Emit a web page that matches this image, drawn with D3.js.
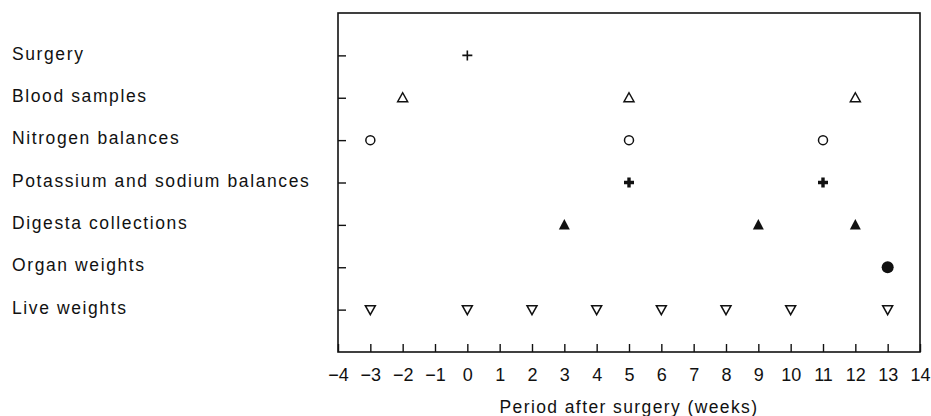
<!DOCTYPE html>
<html><head><meta charset="utf-8">
<script src="https://cdn.jsdelivr.net/npm/d3@7"></script>
<style>body{margin:0;background:#fff;} svg{display:block;font-family:"Liberation Sans",Arial,sans-serif;}</style>
</head><body>
<script>
const rowLabels = ["Surgery","Blood samples","Nitrogen balances","Potassium and sodium balances","Digesta collections","Organ weights","Live weights"];
const surgery = [0];
const bloodSamples = [-2, 5, 12];
const nitrogenBalances = [-3, 5, 11];
const potassiumSodium = [5, 11];
const digestaCollections = [3, 9, 12];
const organWeights = [13];
const liveWeights = [-3, 0, 2, 4, 6, 8, 10, 13];
const xTicks = d3.range(-4, 15);
const xTitle = "Period after surgery (weeks)";

const series = [
  {row: 0, values: surgery, shape: "plus"},
  {row: 1, values: bloodSamples, shape: "triUpOpen"},
  {row: 2, values: nitrogenBalances, shape: "circleOpen"},
  {row: 3, values: potassiumSodium, shape: "plusBold"},
  {row: 4, values: digestaCollections, shape: "triUpFilled"},
  {row: 5, values: organWeights, shape: "circleFilled"},
  {row: 6, values: liveWeights, shape: "triDownOpen"}
];

const W = 931, H = 416;
const svg = d3.select("body").append("svg").attr("width", W).attr("height", H);
const x = d3.scaleLinear().domain([-4, 14]).range([338, 920]);
const y = d3.scaleLinear().domain([-1, rowLabels.length]).range([13, 352]);

// frame
svg.append("rect").attr("x", x(-4)).attr("y", y(-1)).attr("width", x(14) - x(-4)).attr("height", y(rowLabels.length) - y(-1))
  .attr("fill", "none").attr("stroke", "#111").attr("stroke-width", 1.6);

// bottom axis (inward ticks)
const xAxis = d3.axisBottom(x).tickValues(xTicks).tickSize(-8).tickPadding(16)
  .tickFormat(d => d < 0 ? "\u2212" + Math.abs(d) : String(d));
const gx = svg.append("g").attr("transform", `translate(0,${y(rowLabels.length)})`).call(xAxis);
gx.select(".domain").remove();
gx.selectAll(".tick line").attr("stroke", "#111").attr("stroke-width", 1.4);
gx.selectAll(".tick text").attr("font-size", 18).attr("fill", "#111").attr("dy", "0.71em");

// left axis (inward ticks)
const yAxis = d3.axisLeft(y).tickValues(d3.range(rowLabels.length)).tickSize(-8).tickFormat("");
const gy = svg.append("g").attr("transform", `translate(${x(-4)},0)`).call(yAxis);
gy.select(".domain").remove();
gy.selectAll(".tick line").attr("stroke", "#111").attr("stroke-width", 1.4);

// row labels
svg.append("g").selectAll("text").data(rowLabels).join("text")
  .attr("x", 12).attr("y", (d, i) => y(i) - 2).attr("dy", "0.35em")
  .attr("font-size", 17.5).attr("letter-spacing", 1.6).attr("fill", "#111").text(d => d);

// axis title
svg.append("text").attr("x", (x(-4) + x(14)) / 2).attr("y", 413).attr("text-anchor", "middle")
  .attr("font-size", 17.5).attr("letter-spacing", 1.4).attr("fill", "#111").text(xTitle);

// markers
const g = svg.append("g");
function drawMarker(sel, shape) {
  const s = 5;
  if (shape === "plus") {
    sel.append("path").attr("d", `M${-s},0H${s}M0,${-s}V${s}`).attr("stroke", "#111").attr("stroke-width", 1.6);
  } else if (shape === "plusBold") {
    sel.append("path").attr("d", `M${-s},0H${s}M0,${-s}V${s}`).attr("stroke", "#111").attr("stroke-width", 3.4);
  } else if (shape === "triUpOpen") {
    sel.append("path").attr("d", "M0,-5L5,4L-5,4Z").attr("fill", "none").attr("stroke", "#111").attr("stroke-width", 1.5);
  } else if (shape === "triUpFilled") {
    sel.append("path").attr("d", "M0,-6L5.5,4.5L-5.5,4.5Z").attr("fill", "#111");
  } else if (shape === "triDownOpen") {
    sel.append("path").attr("d", "M0,5L5,-4L-5,-4Z").attr("fill", "none").attr("stroke", "#111").attr("stroke-width", 1.5);
  } else if (shape === "circleOpen") {
    sel.append("circle").attr("r", 4.5).attr("fill", "none").attr("stroke", "#111").attr("stroke-width", 1.5);
  } else if (shape === "circleFilled") {
    sel.append("circle").attr("r", 6).attr("fill", "#111");
  }
}
series.forEach(s => {
  g.append("g").selectAll("g").data(s.values).join("g")
    .attr("transform", d => `translate(${x(d)},${y(s.row)})`)
    .each(function() { drawMarker(d3.select(this), s.shape); });
});
</script>
</body></html>
